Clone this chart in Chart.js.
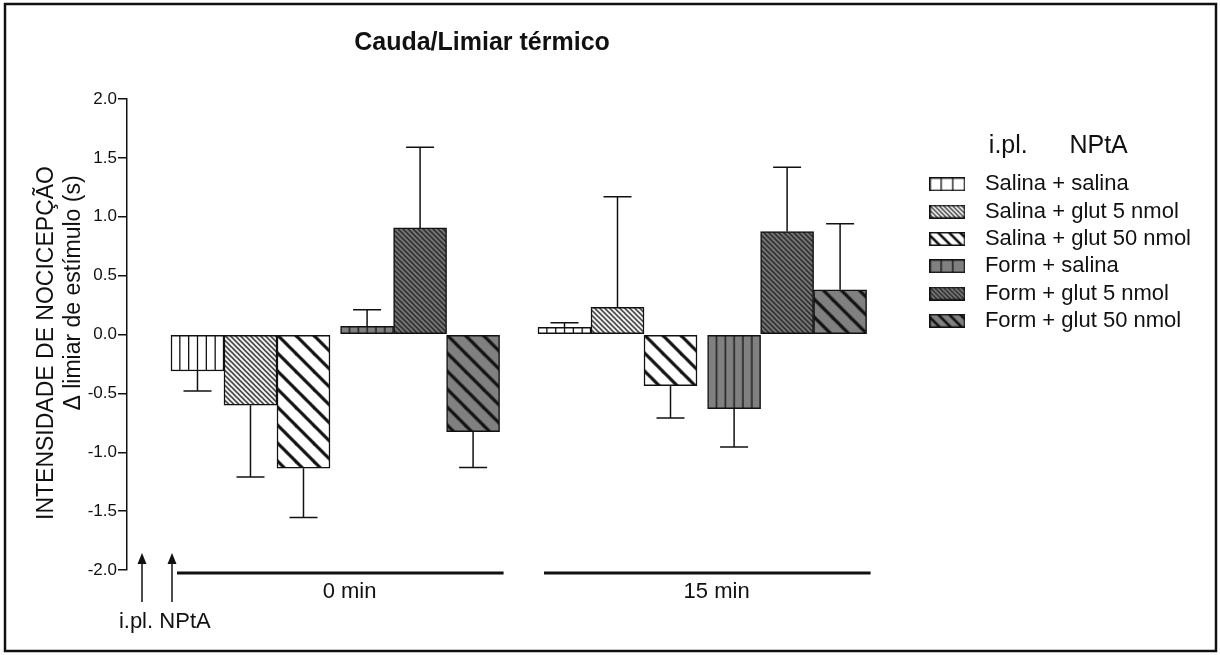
<!DOCTYPE html>
<html>
<head>
<meta charset="utf-8">
<title>Cauda/Limiar térmico</title>
<script src="https://cdn.jsdelivr.net/npm/chart.js@4.4.0/dist/chart.umd.min.js"></script>
<style>
  html, body { margin: 0; padding: 0; background: #fff; }
</style>
</head>
<body>
<canvas id="chart" width="1220" height="655"></canvas>
<script>
// time points and treatment groups
const timeLabels = ['0 min', '15 min'];
const groupNames = [
    'Salina + salina',
    'Salina + glut 5 nmol',
    'Salina + glut 50 nmol',
    'Form + salina',
    'Form + glut 5 nmol',
    'Form + glut 50 nmol'
];

// mean change of threshold (s), one value per time point
const meanSalSal = [-0.31, 0.06];
const meanSalGlut5 = [-0.60, 0.23];
const meanSalGlut50 = [-1.135, -0.435];
const meanFormSal = [0.07, -0.63];
const meanFormGlut5 = [0.905, 0.875];
const meanFormGlut50 = [-0.825, 0.38];

// error (SEM), drawn away from zero
const semSalSal = [0.17, 0.04];
const semSalGlut5 = [0.61, 0.94];
const semSalGlut50 = [0.42, 0.275];
const semFormSal = [0.14, 0.325];
const semFormGlut5 = [0.685, 0.545];
const semFormGlut50 = [0.305, 0.56];

const yTicks = [-2.0, -1.5, -1.0, -0.5, 0.0, 0.5, 1.0, 1.5, 2.0];

const means = [meanSalSal, meanSalGlut5, meanSalGlut50, meanFormSal, meanFormGlut5, meanFormGlut50];
const sems = [semSalSal, semSalGlut5, semSalGlut50, semFormSal, semFormGlut5, semFormGlut50];

// look of each group: hatch kind + fill
const INK = '#111';
const GRAY = '#808080';
const groupStyles = [
    { kind: 'vert', bg: '#fff' },
    { kind: 'fine', bg: '#fff' },
    { kind: 'thick', bg: '#fff' },
    { kind: 'vert', bg: GRAY },
    { kind: 'fine', bg: GRAY },
    { kind: 'thick', bg: GRAY }
];

// layout of the bars along x (units of one bar width, ~53px)
const BAR_PX = 53;
const X_START = -1.33;
const X_END = 13.55;
const GROUP_STRIDE = 6.925;
const SUB_GAP = 0.2;
function barPos(group, bar) {
    return group * GROUP_STRIDE + bar + (bar >= 3 ? SUB_GAP : 0);
}

const FONT = "'Liberation Sans', Arial, Helvetica, sans-serif";
Chart.defaults.font.family = FONT;
Chart.defaults.color = INK;

const helper = document.createElement('canvas').getContext('2d');

function hatch(g, w, h, bg, kind, step, lw) {
    g.fillStyle = bg;
    g.fillRect(0, 0, w, h);
    g.strokeStyle = INK;
    g.fillStyle = INK;
    if (kind === 'vert') {
        for (let k = 1; k * step < w - 1; k++) {
            g.fillRect(k * step - lw / 2, 0, lw, h);
        }
    } else {
        g.lineWidth = lw;
        for (let off = -h - step; off < w + step; off += step) {
            g.beginPath();
            g.moveTo(off - 2, -2);
            g.lineTo(off + h + 2, h + 2);
            g.stroke();
        }
    }
}

function makeTile(kind, bg) {
    const c = document.createElement('canvas');
    const g = c.getContext('2d');
    if (kind === 'vert') {
        c.width = BAR_PX; c.height = 8;
        hatch(g, c.width, c.height, bg, kind, BAR_PX / 6, 1.3);
    } else {
        const s = kind === 'fine' ? 5 : 18;
        c.width = s; c.height = s;
        g.fillStyle = bg;
        g.fillRect(0, 0, s, s);
        g.strokeStyle = INK;
        g.lineWidth = kind === 'fine' ? 1.3 : 3.2;
        for (const off of [-s, 0, s]) {
            g.beginPath();
            g.moveTo(off - 2, -2);
            g.lineTo(off + s + 2, s + 2);
            g.stroke();
        }
    }
    return c;
}

function makeIcon(kind, bg) {
    const c = document.createElement('canvas');
    c.width = 36; c.height = 14;
    const g = c.getContext('2d');
    const step = kind === 'vert' ? 11.7 : kind === 'fine' ? 4.5 : 11;
    const lw = kind === 'vert' ? 1.3 : kind === 'fine' ? 1.2 : 2.6;
    hatch(g, 36, 14, bg, kind, step, lw);
    g.strokeStyle = INK;
    g.lineWidth = 1.5;
    g.strokeRect(0.75, 0.75, 34.5, 12.5);
    return c;
}

function barFill(kind, bg) {
    const tile = makeTile(kind, bg);
    return (c) => {
        const pattern = helper.createPattern(tile, 'repeat');
        if (c.type === 'data' && c.parsed && c.chart.scales.x) {
            const left = c.chart.scales.x.getPixelForValue(c.parsed.x) - BAR_PX / 2;
            const top = c.chart.scales.y ? c.chart.scales.y.getPixelForValue(0) : 0;
            pattern.setTransform(new DOMMatrix([1, 0, 0, 1, left, top]));
        }
        return pattern;
    };
}

const datasets = groupNames.map((name, i) => ({
    label: name,
    data: means[i].map((v, g) => ({ x: barPos(g, i), y: v })),
    backgroundColor: barFill(groupStyles[i].kind, groupStyles[i].bg),
    borderColor: INK,
    borderWidth: 1.5,
    borderSkipped: false,
    grouped: false,
    barPercentage: 1,
    categoryPercentage: 1,
    pointStyle: makeIcon(groupStyles[i].kind, groupStyles[i].bg)
}));

const annotations = {
    id: 'annotations',
    beforeDraw(chart) {
        const ctx = chart.ctx;
        ctx.save();
        ctx.fillStyle = '#fff';
        ctx.fillRect(0, 0, chart.width, chart.height);
        ctx.restore();
    },
    afterDatasetsDraw(chart) {
        const ctx = chart.ctx;
        const y = chart.scales.y;
        ctx.save();
        ctx.strokeStyle = INK;
        ctx.lineWidth = 1.5;
        chart.data.datasets.forEach((ds, i) => {
            chart.getDatasetMeta(i).data.forEach((bar, g) => {
                const m = means[i][g];
                const tip = y.getPixelForValue(m + Math.sign(m) * sems[i][g]);
                ctx.beginPath();
                ctx.moveTo(bar.x, bar.y);
                ctx.lineTo(bar.x, tip);
                ctx.moveTo(bar.x - 14, tip);
                ctx.lineTo(bar.x + 14, tip);
                ctx.stroke();
            });
        });
        ctx.restore();
    },
    afterDraw(chart) {
        const ctx = chart.ctx;
        const area = chart.chartArea;
        const x = chart.scales.x;
        ctx.save();
        ctx.fillStyle = INK;
        ctx.strokeStyle = INK;

        // title
        ctx.font = 'bold 25px ' + FONT;
        ctx.textAlign = 'center';
        ctx.textBaseline = 'middle';
        ctx.fillText('Cauda/Limiar térmico', 482, 43);

        // y axis titles
        ctx.font = '23px ' + FONT;
        ctx.textBaseline = 'alphabetic';
        ctx.save();
        ctx.translate(53, 343);
        ctx.rotate(-Math.PI / 2);
        ctx.fillText('INTENSIDADE DE NOCICEPÇÃO', 0, 0);
        ctx.restore();
        ctx.save();
        ctx.translate(80, 293);
        ctx.rotate(-Math.PI / 2);
        ctx.fillText('\u0394 limiar de estímulo (s)', 0, 0);
        ctx.restore();

        // time-point lines under each group
        ctx.lineWidth = 3;
        timeLabels.forEach((_, g) => {
            const l = x.getPixelForValue(barPos(g, 0)) - BAR_PX / 2 + 6;
            const r = x.getPixelForValue(barPos(g, 5)) + BAR_PX / 2 + 4;
            ctx.beginPath();
            ctx.moveTo(l, area.bottom + 3);
            ctx.lineTo(r, area.bottom + 3);
            ctx.stroke();
        });

        // injection arrows
        ctx.lineWidth = 1.5;
        [area.left + 15, area.left + 45].forEach(ax => {
            ctx.beginPath();
            ctx.moveTo(ax, 602);
            ctx.lineTo(ax, 562);
            ctx.stroke();
            ctx.beginPath();
            ctx.moveTo(ax, 553);
            ctx.lineTo(ax - 4.5, 564);
            ctx.lineTo(ax + 4.5, 564);
            ctx.closePath();
            ctx.fill();
        });
        ctx.font = '22px ' + FONT;
        ctx.textBaseline = 'middle';
        ctx.fillText('i.pl.', 136, 622);
        ctx.fillText('NPtA', 185, 622);

        // frame
        ctx.lineWidth = 2.5;
        ctx.strokeRect(5, 4, 1211, 647);
        ctx.restore();
    }
};

new Chart(document.getElementById('chart'), {
    type: 'bar',
    data: { datasets: datasets },
    options: {
        responsive: false,
        animation: false,
        layout: { padding: { top: 99, right: 19, bottom: 0, left: 0 } },
        plugins: {
            title: { display: false },
            tooltip: { enabled: false },
            legend: {
                position: 'right',
                align: 'start',
                title: {
                    display: true,
                    text: 'i.pl.      NPtA',
                    color: INK,
                    font: { size: 25 },
                    padding: { top: 35, bottom: 4 }
                },
                labels: {
                    usePointStyle: true,
                    pointStyleWidth: 53,
                    padding: 5.3,
                    color: INK,
                    font: { size: 22 }
                }
            }
        },
        scales: {
            x: {
                type: 'linear',
                bounds: 'data',
                offset: false,
                grace: 0,
                min: X_START,
                max: X_END,
                afterBuildTicks: s => {
                    s.ticks = timeLabels.map((_, g) => ({ value: (barPos(g, 0) + barPos(g, 5)) / 2 + 0.27 }));
                },
                afterFit: s => { s.height = 85; },
                grid: { display: false, drawTicks: false },
                border: { display: false },
                ticks: {
                    autoSkip: false,
                    maxRotation: 0,
                    padding: 9,
                    color: INK,
                    font: { size: 22 },
                    callback: (v, i) => timeLabels[i]
                }
            },
            y: {
                min: -2,
                max: 2,
                afterFit: s => { s.width = 127; },
                afterBuildTicks: s => { s.ticks = yTicks.map(v => ({ value: v })); },
                grid: { drawOnChartArea: false, drawTicks: true, tickLength: 9, color: INK, lineWidth: 1.5 },
                border: { display: true, color: INK, width: 1.5 },
                ticks: {
                    padding: 1,
                    color: INK,
                    font: { size: 17 },
                    callback: v => v.toFixed(1)
                }
            }
        }
    },
    plugins: [annotations]
});
</script>
</body>
</html>
